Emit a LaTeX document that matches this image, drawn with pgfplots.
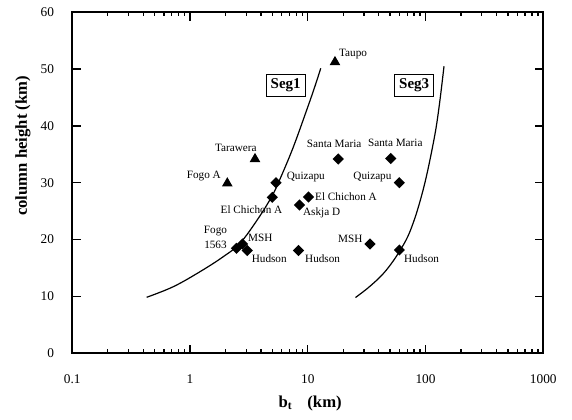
\documentclass[border=0pt]{standalone}
\usepackage{fontspec}
\setmainfont{Liberation Serif}
\usepackage{pgfplots}
\pgfplotsset{compat=1.18}
\tikzset{
  lbl/.style={font=\fontsize{8.4}{10}\selectfont, inner sep=0pt},
  segbox/.style={draw, line width=0.9pt, font=\fontsize{11.25}{13}\selectfont\bfseries, minimum width=29.25pt, minimum height=16.5pt, inner sep=0pt},
}
\begin{document}
\begin{tikzpicture}
\path (-54.225pt,-49.5pt) rectangle (374.775pt,264.75pt);
\begin{axis}[
  at={(0pt,0pt)}, anchor=south west,
  axis lines=box,
  scale only axis,
  width=353.25pt, height=255.5pt,
  xmode=log, xmin=0.1, xmax=1000, ymin=0, ymax=60,
  xtick={0.1,1,10,100,1000}, xticklabels={0.1,1,10,100,1000},
  ytick={0,10,20,30,40,50,60},
  minor xtick={}, minor ytick={},
  tick align=inside, tick pos=both,
  major tick length=6.25pt,
  every tick/.append style={black, line width=1pt},
  every axis/.append style={line width=1.3pt},
  axis line style={black, line width=1.3pt},
  /pgf/number format/assume math mode=true,
  tick label style={font=\fontsize{10}{12}\selectfont},
  xticklabel style={anchor=center, yshift=-19.5pt},
  yticklabel style={xshift=-9.7pt},
  xlabel={\textbf{b\textsubscript{t}\hspace{0.9em}(km)}},
  ylabel={\textbf{column height (km)}},
  label style={font=\fontsize{12.5}{14}\selectfont},
  xlabel style={at={(axis description cs:0.505,-0.1468)}, anchor=center},
  ylabel style={at={(axis description cs:-0.1047,0.608)}, anchor=center},
]
% Seg1 curve
\addplot[black, line width=0.9pt, smooth, tension=0.6] coordinates {
 (0.428,9.81) (0.721,11.68) (1.215,14.32) (1.914,16.96) (2.655,19.32)
 (3.80,23.72) (4.97,27.65) (5.81,30.65) (7.48,36.1) (9.79,42.8)
 (11.51,47.0) (12.88,50.14)};
% Seg3 curve
\addplot[black, line width=0.9pt, smooth, tension=0.6] coordinates {
 (25.4,9.77) (32.4,11.45) (41.9,13.56) (50.9,15.67) (60.7,18.05)
 (71.0,20.6) (81.3,23.8) (91.4,27.3) (100.9,30.8) (111.2,34.9)
 (122.7,39.6) (132.7,44.6) (143.5,50.5)};
% triangles
\addplot[only marks, mark=triangle*, mark size=3.3pt, black] coordinates {
 (17.02,51.25) (3.562,34.17) (2.072,29.89)};
% diamonds
\addplot[only marks, mark=square*, mark options={rotate=45}, mark size=2.3pt, black] coordinates {
 (5.37,29.99) (4.994,27.42) (10.14,27.47) (8.50,26.07) (18.16,34.17)
 (50.6,34.26) (59.9,29.99) (33.76,19.20) (59.9,18.14) (8.34,18.05)
 (2.48,18.44) (2.79,19.20) (3.06,18.05)};
% labels
\node[lbl, anchor=west] at (axis cs:18.16,52.6) {Taupo};
\node[lbl] at (axis cs:2.446,36.05) {Tarawera};
\node[lbl, anchor=east] at (axis cs:1.857,31.26) {Fogo A};
\node[lbl, anchor=west] at (axis cs:6.53,30.94) {Quizapu};
\node[lbl] at (axis cs:3.326,25.18) {El Chichon A};
\node[lbl, anchor=west] at (axis cs:11.36,27.53) {El Chichon A};
\node[lbl, anchor=west] at (axis cs:8.98,24.71) {Askja D};
\node[lbl] at (axis cs:16.76,36.81) {Santa Maria};
\node[lbl] at (axis cs:55.36,36.93) {Santa Maria};
\node[lbl, anchor=east] at (axis cs:52.2,30.94) {Quizapu};
\node[lbl, anchor=east] at (axis cs:29.6,20.02) {MSH};
\node[lbl, anchor=west] at (axis cs:64.7,16.68) {Hudson};
\node[lbl, anchor=west] at (axis cs:9.34,16.68) {Hudson};
\node[lbl, align=center] at (axis cs:1.645,20.31) {Fogo\\[1pt]1563};
\node[lbl, anchor=west] at (axis cs:3.063,20.20) {MSH};
\node[lbl, anchor=west] at (axis cs:3.293,16.68) {Hudson};
\node[segbox] at (axis cs:6.49,47.11) {Seg1};
\node[segbox] at (axis cs:80.1,47.11) {Seg3};
\end{axis}
\end{tikzpicture}
\end{document}
